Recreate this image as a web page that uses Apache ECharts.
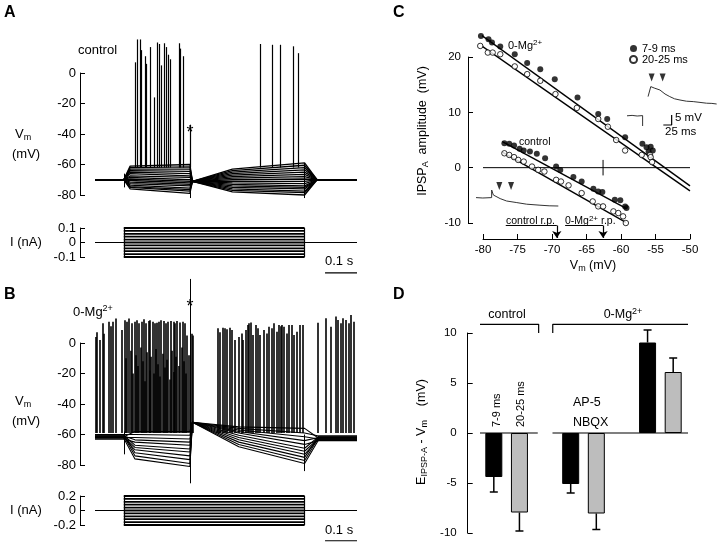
<!DOCTYPE html>
<html>
<head>
<meta charset="utf-8">
<script src="https://cdn.jsdelivr.net/npm/echarts/dist/echarts.min.js"></script>
<style>
html, body { margin: 0; padding: 0; background: #fff; }
#chart { width: 720px; height: 545px; }
</style>
</head>
<body>
<div id="chart"></div>
<script>
var FONT = '"Liberation Sans", Arial, Helvetica, sans-serif';

// sweep timing (ms)
var stepOn = 90, stepOff = 656, sweepEnd = 820, scaleBarMs = 100;

// ---- A: control, membrane potential (mV) of each sweep at key times ----
var aRest = -70, aReset = -71;
var aSeg1Early = [-76, -75, -74.5, -73.5, -72.5, -71.5, -70.5, -69.5, -68.5, -67.5, -66, -65, -64, -63, -62, -61];
var aSeg1Late  = [-79, -77.5, -76.5, -75.5, -74, -73, -72, -71, -70, -68.5, -67.5, -66, -64.5, -63, -61.5, -60];
var aSeg2Mid   = [-78, -77, -76, -75, -74, -73, -72, -71, -70, -69, -68, -67, -66, -65, -64, -63];
var aSeg2End   = [-80, -78.5, -77.5, -76, -75, -74, -72.5, -71, -69.5, -68, -66.5, -65, -63.5, -62, -60.5, -59];
// spikes: [time ms, peak mV]
var aSpikes = [[125, 7], [132, 22], [143, 22], [146, 15], [156, 11], [161, 6], [172, 17], [185, -16],
  [196, 20], [200, 19], [206, 5], [216, 19.5], [224, 17], [229, 12], [234, 9], [264, 19.5], [268, 16],
  [276, 11], [297, -34], [516, 19], [555, 18.5], [580, 18.5], [622, 17.5], [635, 13]];
// stimulus artefacts: [time, top, bottom]
var aArtifacts = [[90, -66, -75], [297, -34, -82], [656, -59, -82]];
var aCurrent = [-0.1, -0.08, -0.06, -0.04, -0.02, 0, 0.02, 0.04, 0.06, 0.08, 0.1];

// ---- B: 0-Mg2+ ----
var bReset = -52;
var bPre       = [-62.5, -61, -60, -62, -61.5, -60.5, -63, -61, -62, -60, -61.5];
var bSeg1Early = [-76, -74, -72, -70, -68.5, -67, -65, -63.5, -62, -60, -58];
var bSeg1Late  = [-81, -79, -76.5, -74, -71.5, -69.5, -67, -65, -63, -60.5, -58];
var bSeg2Mid   = [-68, -66.5, -65, -63.5, -62, -60.5, -59, -58, -57, -56, -55];
var bSeg2End   = [-79, -77, -75, -73, -71, -69, -66.5, -64, -61.5, -59, -56];
var bSpikes = [[3, 4], [7, 7], [13.5, 2], [24, 13], [28, 6], [42, 14], [50, 11], [55, 14], [66, 16], [83, 8.5],
  [94, 15], [99, 14], [107, 16], [115, 13], [123, 14], [130, 15], [138, 13], [146, 14], [153, 15.5], [159, 13],
  [167, 14.5], [172, 15], [180, 14], [187, 13], [193, 13.3], [200, 14], [206, 15], [216, 14.5], [222, 13],
  [229, 14], [236, 14.5], [245, 14], [250, 13], [257, 14.5], [266, 13.5], [274, 14], [281, 13], [288, 5],
  [302, 6], [307, 5],
  [385, 9.6], [392, 7], [399, 10], [406, 9.6], [411, 9], [422, 10], [429, 8.5], [437, 2], [450, 4], [458, 6.3],
  [463, 2], [471, 8.5], [477, 11.8], [482, 12.9], [487, 13.5], [495, 5.2], [502, 11.8], [508, 9.6], [516, 5.2],
  [529, 8.5], [536, 6.3], [545, 10.7], [552, 9.6], [560, 12.9], [568, 7.4], [575, 11.8], [580, 11], [585, 11.8],
  [591, 10.7], [599, 6.3], [607, 11.8], [615, 11.8], [623, 5.2], [630, 7.4], [641, 11.8], [651, 11.8],
  [698, 13.3], [721, 16.2], [737, 10.7], [753, 17.3], [760, 15.1], [768, 12.9], [776, 16.2], [786, 15.1],
  [794, 12.9], [802, 18.4], [810, 14]];
// shorter, overlapping spikes of the depolarised sweeps during the first step
var bSpikesLow = [[97, -10], [111, -5], [119, -20], [127, -8], [134, -15], [142, -3], [150, -12], [156, -25],
  [163, -6], [170, -18], [176, -9], [184, -20], [190, -4], [197, -14], [203, -22], [211, -7], [219, -16],
  [226, -11], [233, -24], [240, -5], [248, -19], [254, -9], [261, -15], [270, -3], [278, -12], [285, -20], [292, -8]];
var bArtifacts = [[90, -58, -73], [297, 42, -92], [656, -60, -84]];
var bCurrent = [-0.2, -0.16, -0.12, -0.08, -0.04, 0, 0.04, 0.08, 0.12, 0.16, 0.2];

// ---- C: IPSP amplitude vs Vm ----
var mgEarly = [[-80.3, 23.8], [-79.2, 23.2], [-78.7, 22.6], [-77.5, 21.9], [-75.4, 20.5], [-73.6, 18.9],
  [-71.7, 17.8], [-69.6, 16.0], [-66.3, 12.7], [-63.3, 9.7], [-62.0, 8.8], [-59.4, 5.5], [-56.9, 4.3],
  [-56.3, 3.7], [-55.7, 3.8], [-55.4, 3.1], [-56.0, 2.9]];
var mgLate = [[-80.4, 22.0], [-79.3, 20.8], [-78.6, 20.8], [-77.5, 20.5], [-75.4, 18.3], [-73.6, 16.9],
  [-71.7, 15.7], [-69.5, 13.3], [-66.4, 10.8], [-63.3, 8.8], [-61.9, 7.4], [-60.7, 5.0], [-59.4, 3.1],
  [-57.0, 2.3], [-55.8, 2.3], [-55.7, 1.9], [-55.5, 1.0]];
var ctlEarly = [[-76.9, 4.4], [-76.2, 4.3], [-75.5, 4.0], [-74.7, 3.4], [-74.1, 3.1], [-73.2, 2.9], [-72.2, 2.5],
  [-71.0, 1.7], [-69.4, 0.2], [-68.8, -0.4], [-66.9, -1.7], [-65.7, -2.5], [-64.0, -3.8], [-63.3, -4.3],
  [-62.7, -4.4], [-60.9, -5.8], [-60.1, -5.9], [-59.4, -7.0], [-59.2, -7.3]];
var ctlLate = [[-76.9, 2.6], [-76.2, 2.3], [-75.5, 1.9], [-74.9, 1.4], [-74.1, 1.1], [-72.9, 0.2], [-72.0, -0.4],
  [-71.1, -0.7], [-69.4, -2.2], [-68.7, -2.5], [-67.6, -3.2], [-65.7, -4.6], [-64.1, -6.1], [-63.3, -7.0],
  [-62.6, -7.0], [-61.1, -7.9], [-60.4, -8.2], [-59.7, -8.8], [-59.3, -10.0]];
var mgEarlyFit = [[-80.3, 24.0], [-50, -3.3]];
var mgLateFit = [[-80.4, 22.2], [-50, -4.2]];
var ctlEarlyFit = [[-77.2, 4.7], [-59.2, -7.4]];
var ctlLateFit = [[-77.2, 2.8], [-59.3, -9.9]];
var restCtl = -69.3, restMg = -62.6;
// inset sweeps: [ms, mV]
var insetCtl = [[0, 6.2], [20, 6.0], [46, 6.2], [46, 10], [48, 9.5], [51, 7.5], [56, 7.2], [71, 5.7], [90, 4.5],
  [120, 3.7], [149, 2.9], [188, 2.4], [215, 2.1], [242, 2.0]];
var insetMgPre = [[0, 5.1], [15, 5.3], [30, 5.0], [46, 5.2], [46, 0]];
var insetMg = [[62, 14.7], [70, 19.7], [80, 19], [97, 18], [112, 16], [126, 14.7], [140, 13.6], [156, 13],
  [175, 12.4], [195, 12.2], [215, 11.8], [234, 11.4], [250, 11.3], [264, 11]];
var insetCtlMarks = [[68.5, 12], [103, 12]];
var insetMgMarks = [[72.6, 24.3], [105, 24.3]];

// ---- D: E(IPSP-A) - Vm ----
var dBars = ['control 7-9 ms', 'control 20-25 ms', '', 'AP-5 NBQX 7-9 ms', 'AP-5 NBQX 20-25 ms', ' ', '0-Mg 7-9 ms', '0-Mg 20-25 ms'];
var dEarly = [-4.4, '-', '-', -5.1, '-', '-', 9.05, '-'];
var dLate = ['-', -7.95, '-', '-', -8.05, '-', '-', 6.1];
var dSem = [1.5, 1.85, 0, 0.9, 1.6, 0, 1.25, 1.4];

// ---------------------------------------------------------------
var series = [];
function addLine(data, xi, yi, width, color) {
  series.push({ type: 'line', xAxisIndex: xi, yAxisIndex: yi, data: data, symbol: 'none', silent: true,
    clip: false, animation: false, lineStyle: { color: color || '#000', width: width || 1 } });
}
function addSticks(list, xi, yi, width, color, arrow) {
  series.push({ type: 'lines', coordinateSystem: 'cartesian2d', xAxisIndex: xi, yAxisIndex: yi, silent: true,
    clip: false, animation: false, lineStyle: { color: color || '#000', width: width, opacity: 1 },
    symbol: arrow ? ['none', 'arrow'] : 'none', symbolSize: 7,
    data: list.map(function (c) { return { coords: c }; }) });
}

// A sweeps
aSeg1Early.forEach(function (v, i) {
  addLine([[0, aRest], [stepOn, aRest], [110, v], [297, aSeg1Late[i]], [305, aReset], [430, aSeg2Mid[i]],
    [stepOff, aSeg2End[i]], [695, aRest], [sweepEnd, aRest]], 0, 0, 1.3);
});
addSticks(aSpikes.map(function (s) { return [[s[0], -62], [s[0], s[1]]]; }), 0, 0, 1.2);
addSticks(aArtifacts.map(function (s) { return [[s[0], s[1]], [s[0], s[2]]]; }), 0, 0, 1);
function addCurrent(levels, xi, yi) {
  addLine([[0, 0], [sweepEnd, 0]], xi, yi, 1);
  levels.forEach(function (c) { addLine([[stepOn, c], [stepOff, c]], xi, yi, 1.8); });
  var lo = levels[0], hi = levels[levels.length - 1];
  addSticks([[[stepOn, lo], [stepOn, hi]], [[stepOff, lo], [stepOff, hi]]], xi, yi, 1.2);
}
addCurrent(aCurrent, 1, 1);
addLine([[sweepEnd - scaleBarMs, -0.21], [sweepEnd, -0.21]], 1, 1, 1.2);

// B sweeps
bSeg1Early.forEach(function (v, i) {
  addLine([[0, bPre[i]], [stepOn, bPre[i]], [125, v], [297, bSeg1Late[i]], [305, bReset], [450, bSeg2Mid[i]],
    [stepOff, bSeg2End[i]], [700, bPre[i] - 1], [sweepEnd, bPre[i] - 1]], 2, 2, 1.1);
});
addSticks(bSpikes.map(function (s) { return [[s[0], -59], [s[0], s[1]]]; }), 2, 2, 1.6);
addSticks(bSpikesLow.map(function (s) { return [[s[0], -59], [s[0], s[1]]]; }), 2, 2, 1.6);
addSticks(bArtifacts.map(function (s) { return [[s[0], s[1]], [s[0], s[2]]]; }), 2, 2, 1);
addCurrent(bCurrent, 3, 3);
addLine([[sweepEnd - scaleBarMs, -0.417], [sweepEnd, -0.417]], 3, 3, 1.2);

// C
addLine([[-80, 0], [-50, 0]], 4, 4, 1);
addLine([[restMg, -1.4], [restMg, 1.4]], 4, 4, 1);
[mgEarlyFit, mgLateFit, ctlEarlyFit, ctlLateFit].forEach(function (f) { addLine(f, 4, 4, 1.4); });
function addPoints(name, data, filled) {
  series.push({ type: 'scatter', name: name, xAxisIndex: 4, yAxisIndex: 4, data: data, symbol: 'circle',
    symbolSize: filled ? 6 : 5.5, clip: false, animation: false, silent: true, z: 5,
    itemStyle: filled ? { color: '#000' } : { color: '#fff', borderColor: '#000', borderWidth: 1 } });
}
addPoints('7-9 ms', mgEarly, true);
addPoints('20-25 ms', mgLate, false);
addPoints('7-9 ms', ctlEarly, true);
addPoints('20-25 ms', ctlLate, false);
// resting potential markers
addLine([[-76.7, -10.45], [restCtl, -10.45]], 4, 4, 1);
addLine([[-68.1, -10.45], [restMg, -10.45]], 4, 4, 1);
addSticks([[[restCtl, -10.45], [restCtl, -12.7]], [[restMg, -10.45], [restMg, -12.7]]], 4, 4, 1.2, '#000', true);
// insets
addLine(insetCtl, 7, 6, 1, '#333');
addLine(insetMgPre, 8, 7, 1, '#333');
addLine(insetMg, 8, 7, 1, '#333');
addLine([[107, 0.5], [131.5, 0.5], [131.5, 5.5]], 8, 7, 1.2);
[[insetCtlMarks, 7, 6], [insetMgMarks, 8, 7]].forEach(function (m) {
  series.push({ type: 'scatter', xAxisIndex: m[1], yAxisIndex: m[2], data: m[0], symbol: 'triangle',
    symbolRotate: 180, symbolSize: [6, 8], clip: false, silent: true, animation: false, itemStyle: { color: '#000' } });
});

// D
series.push({ type: 'bar', xAxisIndex: 5, yAxisIndex: 5, data: dEarly, barWidth: 17, barGap: '-100%',
  silent: true, animation: false, itemStyle: { color: '#000', borderColor: '#000', borderWidth: 1 } });
series.push({ type: 'bar', xAxisIndex: 5, yAxisIndex: 5, data: dLate, barWidth: 17, barGap: '-100%',
  silent: true, animation: false, itemStyle: { color: '#bdbdbd', borderColor: '#000', borderWidth: 1 } });
series.push({ type: 'custom', xAxisIndex: 5, yAxisIndex: 5, silent: true, animation: false, z: 4,
  data: dBars.map(function (b, i) {
    var m = dEarly[i] !== '-' ? dEarly[i] : dLate[i];
    return m === '-' ? null : [i, m, dSem[i]];
  }).filter(Boolean),
  renderItem: function (params, api) {
    var m = api.value(1), e = api.value(2);
    var p0 = api.coord([api.value(0), m]);
    var p1 = api.coord([api.value(0), m + (m >= 0 ? e : -e)]);
    var st = { stroke: '#000', lineWidth: 1.5 };
    return { type: 'group', children: [
      { type: 'line', shape: { x1: p0[0], y1: p0[1], x2: p1[0], y2: p1[1] }, style: st },
      { type: 'line', shape: { x1: p1[0] - 4, y1: p1[1], x2: p1[0] + 4, y2: p1[1] }, style: st }
    ] };
  } });
addLine([[-0.24, 0], [2.215, 0]], 6, 5, 1.2);
addLine([[2.79, 0], [8.42, 0]], 6, 5, 1.2);
addLine([[-0.175, 10], [-0.175, 10.87], [2.25, 10.87], [2.25, 10]], 6, 5, 1.2);
addLine([[2.8, 10], [2.8, 10.87], [8.26, 10.87], [8.26, 10]], 6, 5, 1.2);

// ---------------------------------------------------------------
function valAxis(grid, min, max, interval, offset, size, margin) {
  return { type: 'value', gridIndex: grid, min: min, max: max, interval: interval, offset: offset,
    axisLine: { show: true, onZero: false, lineStyle: { color: '#000', width: 1 } },
    axisTick: { show: true, inside: true, length: 5, lineStyle: { color: '#000', width: 1 } },
    axisLabel: { color: '#000', fontSize: size, fontFamily: FONT, margin: margin },
    splitLine: { show: false } };
}
function hiddenAxis(grid, min, max) {
  return { type: 'value', gridIndex: grid, min: min, max: max, show: false, splitLine: { show: false } };
}

var graphics = [];
function rich(size) {
  var s = Math.round(size * 0.72);
  var p = Math.round(size * 0.5);
  return { sub: { fontSize: s, fontFamily: FONT, fill: '#000', padding: [p, 0, 0, 0] },
           sup: { fontSize: s, fontFamily: FONT, fill: '#000', padding: [0, 0, p, 0] } };
}
function label(x, y, text, o) {
  o = o || {};
  var size = o.size || 13;
  var al = o.align || 'left', va = o.va || 'middle';
  graphics.push({ type: 'text', x: x, y: y, rotation: o.rot || 0, silent: true,
    style: { text: text, fill: '#000', fontFamily: FONT, fontSize: size, fontWeight: o.bold ? 'bold' : 'normal',
      align: al, verticalAlign: va, textAlign: al, textVerticalAlign: va, rich: rich(size) } });
}
// A
label(4, 13, 'A', { size: 16, bold: true });
label(78, 50, 'control');
label(15, 134, 'V{sub|m}');
label(12, 154, '(mV)');
label(10, 242, 'I (nA)');
label(190, 133, '*', { size: 18, align: 'center' });
label(325, 261, '0.1 s');
// B
label(4, 295, 'B', { size: 16, bold: true });
label(73, 312, '0-Mg{sup|2+}');
label(15, 401, 'V{sub|m}');
label(12, 421, '(mV)');
label(10, 510, 'I (nA)');
label(190, 307, '*', { size: 18, align: 'center' });
label(325, 530, '0.1 s');
// C
label(393, 13, 'C', { size: 16, bold: true });
label(508, 46, '0-Mg{sup|2+}', { size: 11 });
label(519, 142, 'control', { size: 10.5 });
label(506, 221, 'control r.p.', { size: 10.5 });
label(565, 221, '0-Mg{sup|2+} r.p.', { size: 10.5 });
label(675, 118, '5 mV', { size: 11.5 });
label(665, 132, '25 ms', { size: 11.5 });
label(423, 131, 'IPSP{sub|A}  amplitude  (mV)', { size: 12.5, align: 'center', rot: Math.PI / 2 });
label(593, 266, 'V{sub|m} (mV)', { size: 12.5, align: 'center' });
// D
label(393, 295, 'D', { size: 16, bold: true });
label(507, 315, 'control', { size: 12.5, align: 'center' });
label(623, 315, '0-Mg{sup|2+}', { size: 12.5, align: 'center' });
label(497, 427, '7-9 ms', { size: 11, rot: Math.PI / 2 });
label(521, 427, '20-25 ms', { size: 11, rot: Math.PI / 2 });
label(573, 403, 'AP-5', { size: 12.5 });
label(573, 423, 'NBQX', { size: 12.5 });
label(422, 432, 'E{sub|IPSP-A} - V{sub|m}    (mV)', { size: 12.5, align: 'center', rot: Math.PI / 2 });

var chart = echarts.init(document.getElementById('chart'));
chart.setOption({
  animation: false,
  backgroundColor: '#fff',
  textStyle: { fontFamily: FONT, color: '#000' },
  grid: [
    { left: 95, top: 73, width: 262, height: 122 },
    { left: 95, top: 228, width: 262, height: 29 },
    { left: 95, top: 343, width: 262, height: 122 },
    { left: 95, top: 496, width: 262, height: 29 },
    { left: 483, top: 57, width: 207, height: 166 },
    { left: 481, top: 333, width: 205, height: 200 },
    { left: 476, top: 180, width: 83, height: 30 },
    { left: 627, top: 76, width: 91, height: 50 }
  ],
  xAxis: [
    hiddenAxis(0, 0, sweepEnd), hiddenAxis(1, 0, sweepEnd), hiddenAxis(2, 0, sweepEnd), hiddenAxis(3, 0, sweepEnd),
    valAxis(4, -80, -50, 5, 16, 11.5, 5),
    { type: 'category', gridIndex: 5, data: dBars, show: false },
    hiddenAxis(5, 0, 8),
    hiddenAxis(6, 0, 244),
    hiddenAxis(7, 0, 268)
  ],
  yAxis: [
    valAxis(0, -80, 0, 20, 15, 13, 4),
    valAxis(1, -0.1, 0.1, 0.1, 15, 13, 4),
    valAxis(2, -80, 0, 20, 15, 13, 4),
    valAxis(3, -0.2, 0.2, 0.2, 15, 13, 4),
    valAxis(4, -10, 20, 10, 15, 11.5, 7),
    valAxis(5, -10, 10, 5, 13.3, 11.5, 11),
    hiddenAxis(6, 0, 15),
    hiddenAxis(7, 0, 25)
  ],
  legend: { left: 624, top: 38, orient: 'vertical', itemWidth: 7, itemHeight: 7, itemGap: 0,
    selectedMode: false, data: ['7-9 ms', '20-25 ms'],
    textStyle: { fontSize: 11, fontFamily: FONT, color: '#000', lineHeight: 10 } },
  graphic: graphics,
  series: series
});
</script>
</body>
</html>
